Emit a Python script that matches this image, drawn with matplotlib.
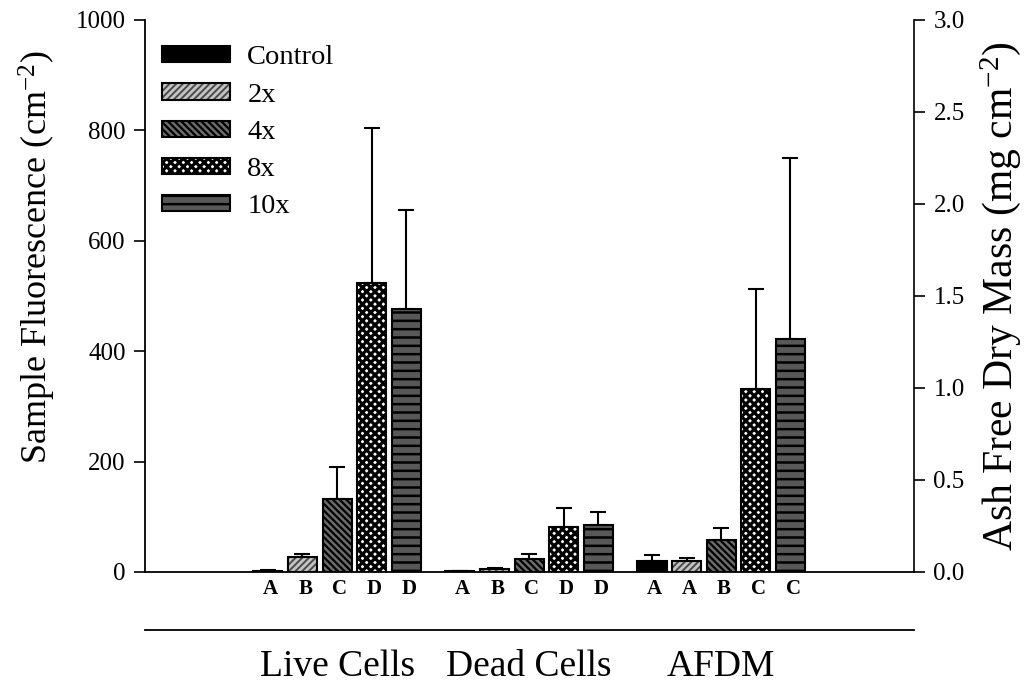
import matplotlib
matplotlib.use("Agg")
import matplotlib.pyplot as plt
import matplotlib.transforms as mtransforms
from matplotlib.lines import Line2D
from matplotlib.patches import Patch, Rectangle
from matplotlib.legend_handler import HandlerTuple, HandlerPatch
import numpy as np

plt.rcParams["font.family"] = ["Liberation Serif", "DejaVu Serif"]
plt.rcParams["mathtext.fontset"] = "custom"
plt.rcParams["mathtext.rm"] = "Liberation Serif"
plt.rcParams["mathtext.it"] = "Liberation Serif"

# Treatments and groups
treatments = ["Control", "2x", "4x", "8x", "10x"]
groups = ["Live Cells", "Dead Cells", "AFDM"]

# Sample fluorescence (cm^-2): means and upper error bars
live_mean = [2, 27, 132, 524, 476]
live_err = [1, 6, 59, 281, 180]
dead_mean = [1, 6, 23, 81, 85]
dead_err = [0.5, 1, 9, 35, 24]

# Ash free dry mass (mg cm^-2): means and upper error bars
afdm_mean = [0.061, 0.058, 0.176, 0.995, 1.265]
afdm_err = [0.031, 0.020, 0.061, 0.545, 0.983]

# Significance letters
live_letters = ["A", "B", "C", "D", "D"]
dead_letters = ["A", "B", "C", "D", "D"]
afdm_letters = ["A", "A", "B", "C", "C"]

# Bar appearance per treatment: fill, hatch pattern, hatch colour, hatch width
face = ["#000000", "#c4c4c4", "#6c6c6c", "#ffffff", "#585858"]
hatches = [None, "/////", "\\\\\\\\\\", "xxxx", "--"]
hatch_col = ["#000000", "#4a4a4a", "#000000", "#000000", "#000000"]
hatch_lw = [1.0, 1.4, 1.6, 2.3, 1.8]


def hatched(i, make):
    with plt.rc_context({"hatch.linewidth": hatch_lw[i]}):
        obj = make()
    items = obj if hasattr(obj, "__iter__") else [obj]
    for p in items:
        if hasattr(p, "set_hatch_linewidth"):
            p.set_hatch_linewidth(hatch_lw[i])
    return obj


fig = plt.figure(figsize=(10.36, 6.84), dpi=100)
ax = fig.add_axes([145 / 1036, 1 - 572 / 684, (914 - 145) / 1036, (572 - 20) / 684])
ax2 = ax.twinx()

group_gap = 5.55
width = 0.84
offsets = np.arange(len(treatments))


def draw_group(axis, g, means, errs):
    xs = g * group_gap + offsets
    for i, (x, m) in enumerate(zip(xs, means)):
        hatched(i, lambda: axis.bar(x, m, width=width, color=face[i],
                                    edgecolor=hatch_col[i], linewidth=0,
                                    hatch=hatches[i], zorder=3))
        axis.bar(x, m, width=width, fill=False, edgecolor="black",
                 linewidth=1.5, zorder=4)
    axis.errorbar(xs, means, yerr=[np.zeros(len(errs)), errs], fmt="none",
                  ecolor="black", elinewidth=1.5, capsize=6, capthick=1.5, zorder=2)
    return xs


xs_live = draw_group(ax, 0, live_mean, live_err)
xs_dead = draw_group(ax, 1, dead_mean, dead_err)
xs_afdm = draw_group(ax2, 2, afdm_mean, afdm_err)

ax.set_xlim(-3.55, 18.67)
ax.set_ylim(0, 1000)
ax2.set_ylim(0, 3.0)
ax.set_yticks(np.arange(0, 1001, 200))
ax2.set_yticks(np.arange(0, 3.01, 0.5))
ax2.set_yticklabels([f"{v:.1f}" for v in np.arange(0, 3.01, 0.5)])
ax.set_xticks([])

for a in (ax, ax2):
    a.spines["top"].set_visible(False)
    a.tick_params(axis="y", direction="out", length=8, width=1.2, labelsize=18, pad=6)
ax.spines["left"].set_linewidth(1.3)
ax.spines["bottom"].set_linewidth(1.3)
ax2.spines["right"].set_linewidth(1.2)
ax2.spines["left"].set_visible(False)
ax2.spines["bottom"].set_visible(False)
ax.spines["right"].set_visible(False)

ax.set_ylabel("Sample Fluorescence (cm$^{-2}$)", fontsize=26, va="center", ha="center")
ax.yaxis.set_label_coords(-0.14, 0.57)
ax2.set_ylabel("Ash Free Dry Mass (mg cm$^{-2}$)", fontsize=30, rotation=90,
               va="center", ha="center")
ax2.yaxis.set_label_coords(1.113, 0.5)

# Letters under each bar
trans = mtransforms.blended_transform_factory(ax.transData, ax.transAxes)
for xs, letters in ((xs_live, live_letters), (xs_dead, dead_letters), (xs_afdm, afdm_letters)):
    for x, lab in zip(xs, letters):
        ax.text(x + 0.08, -0.03, lab, transform=trans, ha="center", va="center",
                fontsize=15, fontweight="bold")

# Separator line and group names below the axis
fig.add_artist(Line2D([145 / 1036, 914 / 1036], [1 - 630 / 684] * 2,
                      color="black", linewidth=1.3, transform=fig.transFigure))
for g, name in enumerate(groups):
    xc = g * group_gap + 2
    ax.text(xc, -0.172, name, transform=trans, ha="center", va="center", fontsize=27)


# Legend: hatched body with a black outline on top
class HatchedHandler(HandlerPatch):
    def __init__(self, lw):
        self.lw = lw
        super().__init__()

    def create_artists(self, legend, orig_handle, xdescent, ydescent, width,
                       height, fontsize, trans):
        with plt.rc_context({"hatch.linewidth": self.lw}):
            p = Rectangle((-xdescent, -ydescent), width, height,
                          facecolor=orig_handle.get_facecolor(),
                          edgecolor=orig_handle.get_edgecolor(),
                          linewidth=orig_handle.get_linewidth(),
                          hatch=orig_handle.get_hatch())
        if hasattr(p, "set_hatch_linewidth"):
            p.set_hatch_linewidth(self.lw)
        p.set_transform(trans)
        return [p]


handles = []
hmap = {tuple: HandlerTuple(ndivide=1, pad=0)}
for i in range(len(treatments)):
    body = Patch(facecolor=face[i], edgecolor=hatch_col[i], linewidth=0,
                 hatch=hatches[i])
    hmap[body] = HatchedHandler(hatch_lw[i])
    outline = Patch(facecolor="none", edgecolor="black", linewidth=1.5)
    handles.append((body, outline))

ax.legend(handles, treatments, loc="upper left", bbox_to_anchor=(-0.004, 0.99),
          frameon=False, fontsize=20.5, handlelength=2.4, handleheight=0.5,
          labelspacing=0.43, handletextpad=0.6, borderaxespad=0.3,
          handler_map=hmap)

fig.savefig("out.png", dpi=100)
